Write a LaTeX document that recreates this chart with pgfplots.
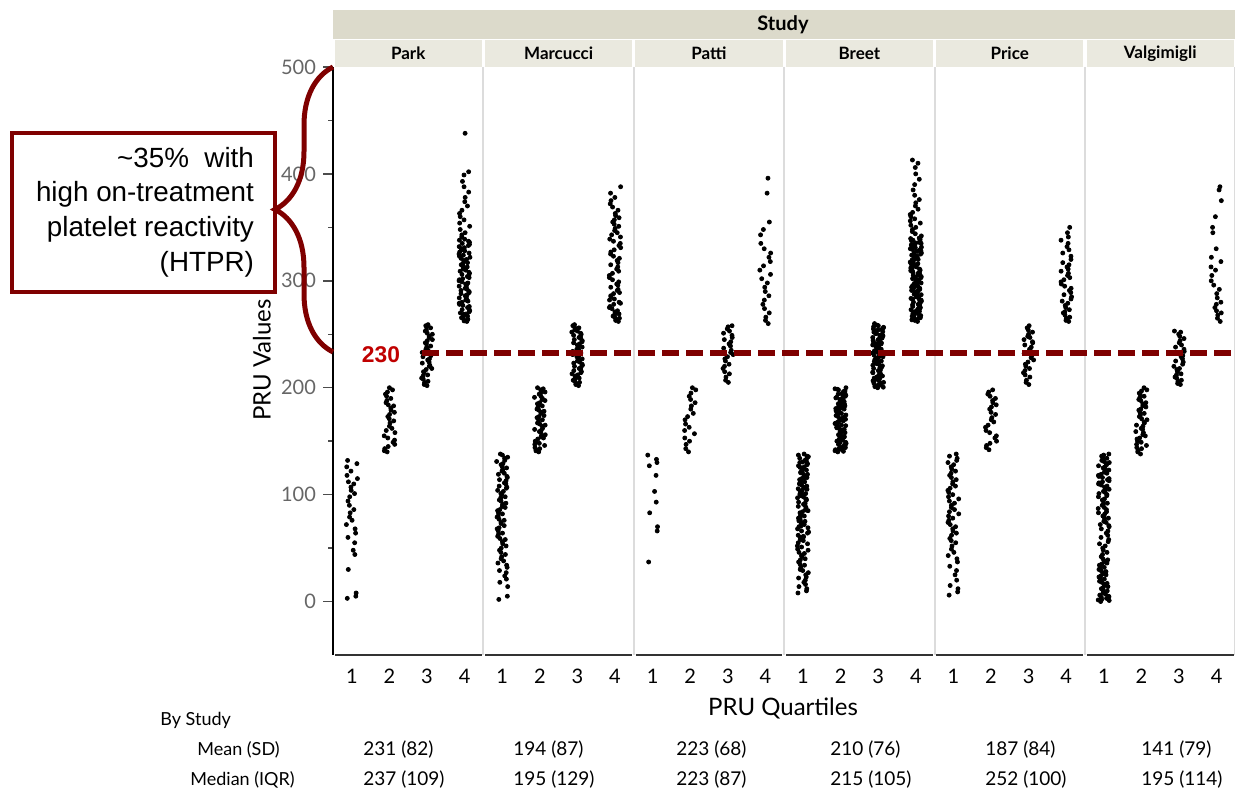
\documentclass[border=0pt]{standalone}
\usepackage{fontspec}
\setmainfont{Lato}
\newfontfamily\arialfont{Liberation Sans}
\usepackage{pgfplots}
\pgfplotsset{compat=1.18}
\usetikzlibrary{decorations.pathreplacing}
\definecolor{dred}{HTML}{7F0000}
\definecolor{lred}{HTML}{C00000}
\definecolor{stripA}{HTML}{DCDACB}
\definecolor{stripB}{HTML}{EAE9DF}
\definecolor{sepgray}{HTML}{DCDCDC}
\newcommand\Q[3]{\addplot[only marks, mark=*, mark size=1pt, mark options={draw=none, fill=black}] table[row sep=\\, y index=0, x expr={#1+0.3*(mod(#2+0.618034*\coordindex+0.1374*\coordindex*\coordindex,1)-0.5)}] {y\\#3\\};}
\pgfplotsset{panel/.style={
  scale only axis, width=75.2pt, height=294pt, anchor=south west,
  xmin=0.5, xmax=4.5, ymin=-50, ymax=500,
  xtick={1,2,3,4}, xtick style={draw=none},
  tick align=outside, major tick length=5pt, minor tick length=2.5pt,
  ytick pos=left, xtick pos=bottom,
  axis line style={draw=none},
  ytick=\empty, clip=false,
  xticklabel style={font=\fontsize{10}{12}\selectfont, text=black, yshift=1.5pt},
  /pgf/number format/assume math mode=true,
}}
\newcommand\panelframe{\draw[sepgray, line width=1pt] (rel axis cs:1,0) -- (rel axis cs:1,1);
  \draw[black!80, line width=1pt] (rel axis cs:0.012,0) -- (rel axis cs:0.988,0);}
\begin{document}
\begin{tikzpicture}
\useasboundingbox (0,0) rectangle (617.5pt,396pt);
% ---------------- Park
\begin{axis}[panel, at={(166.5pt,68.5pt)},
  ytick={0,100,200,300,400,500}, minor ytick={50,150,250,350,450},
  ytick style={black!70, line width=0.7pt},
  yticklabel style={font=\fontsize{10}{12}\selectfont, text=black!60}]
\panelframe
\draw[black, line width=1pt] (rel axis cs:0,0) -- (rel axis cs:0,1);
\Q{1}{0.1}{3\\5\\8\\30\\44\\48\\55\\60\\64\\68\\72\\76\\79\\83\\86\\90\\94\\98\\101\\104\\107\\110\\112\\115\\118\\122\\126\\129\\132}
\Q{2}{0.3}{140\\141\\143\\145\\147\\149\\151\\153\\155\\158\\160\\162\\164\\167\\169\\171\\173\\175\\177\\179\\181\\183\\184\\186\\188\\190\\192\\194\\196\\198\\200}
\Q{3}{0.5}{202\\203\\205\\206\\208\\209\\211\\212\\214\\215\\217\\218\\220\\221\\223\\224\\226\\227\\229\\230\\232\\233\\235\\236\\238\\239\\241\\242\\244\\245\\247\\248\\250\\251\\253\\254\\256\\257\\258\\259}
\Q{4}{0.7}{262\\262.5\\263\\264\\265\\265.5\\266\\267\\268\\268.5\\269\\270\\271\\272\\273\\274\\275\\276\\277\\278\\279\\280\\281\\282\\283\\284\\285\\286\\287\\288\\289\\290\\291\\292\\293\\294\\295\\296\\297\\298\\299\\300\\301\\302\\303\\304\\305\\306\\307\\308\\309\\310\\311\\312\\313\\314\\315\\316\\317\\318\\319\\320\\321\\322\\323\\324\\325\\326\\327\\328\\329\\330\\331\\332\\333\\334\\335\\336\\337\\338\\339\\341\\343\\345\\348\\351\\354\\357\\360\\363\\366\\370\\374\\378\\383\\388\\393\\399\\402\\438}
\end{axis}
% ---------------- Marcucci
\begin{axis}[panel, at={(241.7pt,68.5pt)}]
\panelframe
\Q{1}{0.2}{2\\5\\14\\18\\21\\24\\27\\29\\32\\34\\36\\38\\40\\42\\44\\46\\48\\50\\52\\54\\56\\58\\59\\61\\63\\64\\66\\68\\69\\71\\73\\74\\76\\77\\79\\80\\82\\83\\85\\86\\88\\89\\91\\92\\94\\95\\97\\98\\100\\101\\103\\104\\106\\107\\108\\110\\111\\113\\114\\116\\117\\119\\120\\122\\123\\125\\126\\128\\129\\131\\132\\134\\135\\137\\138}
\Q{2}{0.4}{140\\141\\142\\143\\144\\146\\147\\148\\149\\150\\152\\153\\154\\155\\156\\158\\159\\160\\161\\162\\164\\165\\166\\167\\168\\170\\171\\172\\173\\174\\176\\177\\178\\179\\180\\182\\183\\184\\185\\186\\188\\189\\190\\191\\192\\194\\195\\196\\197\\198\\199\\200}
\Q{3}{0.6}{202\\203\\204\\205\\206\\207\\208\\209\\210\\211\\212\\213\\214\\215\\216\\217\\218\\219\\220\\221\\222\\223\\224\\225\\226\\227\\228\\229\\230\\231\\232\\233\\234\\235\\236\\237\\238\\239\\240\\241\\242\\243\\244\\245\\246\\247\\248\\249\\250\\251\\252\\253\\254\\255\\256\\257\\258\\259}
\Q{4}{0.8}{262\\263\\264\\265\\266\\267\\268\\269\\270\\271\\272\\274\\275\\276\\278\\279\\280\\282\\283\\285\\286\\288\\289\\291\\292\\294\\296\\297\\299\\301\\303\\305\\307\\309\\311\\313\\315\\317\\319\\321\\323\\325\\327\\329\\331\\333\\335\\337\\339\\341\\343\\345\\347\\349\\351\\353\\355\\357\\359\\361\\363\\366\\369\\372\\375\\378\\382\\388}
\end{axis}
% ---------------- Patti
\begin{axis}[panel, at={(316.9pt,68.5pt)}]
\panelframe
\Q{1}{0.15}{37\\66\\70\\83\\93\\103\\118\\127\\130\\133\\137}
\Q{2}{0.35}{140\\143\\147\\150\\153\\157\\160\\163\\166\\170\\173\\176\\180\\183\\186\\189\\192\\195\\198\\200}
\Q{3}{0.55}{205\\207\\210\\213\\215\\218\\220\\222\\225\\227\\229\\231\\233\\235\\237\\239\\241\\243\\245\\247\\249\\251\\253\\255\\257\\258}
\Q{4}{0.75}{260\\263\\266\\270\\274\\278\\282\\286\\290\\294\\298\\302\\306\\310\\314\\318\\322\\326\\330\\335\\343\\348\\355\\382\\396}
\end{axis}
% ---------------- Breet
\begin{axis}[panel, at={(392.1pt,68.5pt)}]
\panelframe
\Q{1}{0.05}{8\\10\\12\\14\\16\\18\\20\\22\\23\\25\\27\\29\\30\\32\\34\\35\\37\\39\\40\\42\\43\\45\\46\\48\\49\\51\\52\\54\\55\\57\\58\\60\\61\\62\\64\\65\\66\\68\\69\\70\\72\\73\\74\\75\\77\\78\\79\\80\\82\\83\\84\\85\\86\\88\\89\\90\\91\\92\\93\\95\\96\\97\\98\\99\\100\\101\\102\\103\\104\\105\\106\\107\\108\\109\\110\\111\\112\\113\\114\\115\\116\\117\\118\\119\\120\\121\\122\\123\\124\\125\\126\\127\\128\\129\\130\\131\\132\\133\\134\\135\\136\\137\\138}
\Q{1}{0.55}{60.5\\70.5\\80.5\\90.5\\100.5\\105.5\\110.5\\115.5\\120.5\\125.5\\130.5\\135.5\\95.5\\85.5\\75.5}
\Q{2}{0.25}{140\\141\\142\\143\\144\\145\\146\\147\\148\\149\\150\\151\\152\\153\\154\\155\\156\\157\\158\\159\\160\\161\\162\\163\\164\\165\\166\\167\\168\\169\\170\\171\\172\\173\\174\\175\\176\\177\\178\\179\\180\\181\\182\\183\\184\\185\\186\\187\\188\\189\\190\\191\\192\\193\\194\\195\\196\\197\\198\\199\\200}
\Q{2}{0.75}{140.5\\142.5\\144.5\\146.5\\148.5\\150.5\\152.5\\154.5\\156.5\\158.5\\160.5\\162.5\\164.5\\166.5\\168.5\\170.5\\172.5\\174.5\\176.5\\178.5\\180.5\\182.5\\184.5\\186.5\\188.5\\190.5\\192.5\\194.5\\196.5\\198.5}
\Q{3}{0.45}{200\\201\\202\\203\\204\\205\\206\\207\\208\\209\\210\\211\\212\\213\\214\\215\\216\\217\\218\\219\\220\\221\\222\\223\\224\\225\\226\\227\\228\\229\\230\\231\\232\\233\\234\\235\\236\\237\\238\\239\\240\\241\\242\\243\\244\\245\\246\\247\\248\\249\\250\\251\\252\\253\\254\\255\\256\\257\\258\\259\\260}
\Q{3}{0.95}{200.5\\202.5\\204.5\\206.5\\208.5\\210.5\\212.5\\214.5\\216.5\\218.5\\220.5\\222.5\\224.5\\226.5\\228.5\\230.5\\232.5\\234.5\\236.5\\238.5\\240.5\\242.5\\244.5\\246.5\\248.5\\250.5\\252.5\\254.5\\256.5\\258.5}
\Q{4}{0.65}{262\\263\\264\\265\\266\\267\\268\\269\\270\\271\\272\\273\\274\\275\\276\\277\\278\\279\\280\\281\\282\\283\\284\\285\\286\\287\\288\\289\\290\\291\\292\\293\\294\\295\\296\\297\\298\\299\\300\\301\\302\\303\\304\\305\\306\\307\\308\\309\\310\\311\\312\\313\\314\\315\\316\\317\\318\\319\\320\\321\\322\\323\\324\\325\\326\\327\\328\\329\\330\\331\\332\\333\\334\\335\\336\\337\\338\\339\\340\\342\\344\\346\\348\\350\\352\\354\\356\\358\\360\\362\\364\\367\\370\\373\\376\\380\\385\\390\\395\\400\\406\\410\\413}
\Q{4}{0.15}{263.5\\265.5\\267.5\\269.5\\271.5\\273.5\\275.5\\277.5\\279.5\\281.5\\283.5\\285.5\\287.5\\289.5\\291.5\\293.5\\295.5\\297.5\\299.5\\301.5\\303.5\\305.5\\307.5\\309.5\\311.5\\313.5\\315.5\\317.5\\319.5\\321.5\\323.5\\325.5\\327.5\\329.5\\331.5\\333.5\\335.5\\337.5\\339.5}
\end{axis}
% ---------------- Price
\begin{axis}[panel, at={(467.3pt,68.5pt)}]
\panelframe
\Q{1}{0.12}{6\\9\\12\\15\\20\\25\\29\\33\\37\\40\\43\\46\\49\\52\\55\\57\\59\\62\\64\\66\\68\\70\\72\\74\\76\\78\\80\\82\\84\\86\\88\\90\\92\\94\\96\\98\\100\\102\\104\\106\\108\\110\\112\\114\\116\\118\\120\\122\\124\\126\\128\\130\\132\\134\\136\\138}
\Q{2}{0.32}{142\\144\\146\\148\\150\\153\\155\\158\\160\\163\\165\\168\\170\\172\\175\\177\\180\\182\\184\\186\\188\\190\\192\\194\\196\\198}
\Q{3}{0.52}{203\\205\\207\\210\\212\\214\\216\\218\\220\\222\\224\\226\\228\\230\\232\\234\\236\\238\\240\\242\\243\\245\\247\\248\\250\\252\\254\\256\\258}
\Q{4}{0.72}{262\\263\\265\\266\\268\\270\\271\\273\\275\\277\\279\\281\\283\\285\\287\\289\\291\\293\\295\\297\\299\\301\\303\\305\\307\\309\\311\\313\\315\\317\\320\\323\\326\\329\\332\\335\\338\\341\\345\\350}
\end{axis}
% ---------------- Valgimigli
\begin{axis}[panel, at={(542.5pt,68.5pt)}]
\panelframe
\Q{1}{0.22}{0\\1\\1.5\\2\\2.5\\3\\3.5\\4\\4.5\\5\\6\\7\\8\\9\\10\\11\\12\\13\\14\\15\\16\\17\\18\\19\\20\\21\\22\\23\\24\\25\\26\\27\\28\\29\\30\\31\\32\\33\\34\\35\\36\\37\\38\\39\\40\\42\\44\\46\\48\\50\\52\\54\\56\\58\\60\\62\\64\\66\\68\\70\\71\\72\\74\\75\\76\\78\\79\\80\\82\\83\\84\\86\\87\\88\\90\\91\\92\\94\\95\\96\\98\\99\\100\\101\\102\\103\\104\\105\\106\\107\\108\\109\\110\\111\\112\\113\\114\\115\\116\\117\\118\\119\\120\\121\\122\\123\\124\\125\\126\\127\\128\\129\\130\\131\\132\\133\\134\\135\\136\\137\\138}
\Q{2}{0.42}{138\\140\\141\\143\\144\\146\\147\\149\\150\\152\\153\\155\\156\\158\\159\\161\\162\\164\\165\\167\\168\\170\\171\\173\\174\\176\\177\\179\\180\\182\\183\\185\\186\\188\\189\\191\\192\\194\\195\\197\\198\\200}
\Q{3}{0.62}{203\\204\\206\\207\\209\\210\\212\\213\\215\\217\\218\\220\\222\\224\\225\\227\\229\\230\\232\\234\\236\\238\\240\\242\\244\\246\\248\\250\\252\\253}
\Q{4}{0.82}{262\\265\\268\\270\\272\\275\\278\\280\\284\\288\\292\\296\\300\\305\\310\\313\\318\\322\\330\\345\\350\\360\\375\\385\\388}
\end{axis}
% ---------------- strips
\fill[stripA] (166.5pt,376.5pt) rectangle (617.5pt,391pt);
\node[font=\fontsize{10}{12}\selectfont\bfseries] at (391.5pt,383.8pt) {Study};
\foreach \k/\name in {0/Park,1/Marcucci,2/Patti,3/Breet,4/Price,5/Valgimigli}{
  \fill[stripB] ({166.5pt+\k*75.2pt+0.8pt},362.5pt) rectangle ({166.5pt+\k*75.2pt+74.4pt},376pt);
  \node[font=\fontsize{8.5}{10}\selectfont\bfseries] at ({204.1pt+\k*75.2pt},369.3pt) {\name};
}
% ---------------- labels
\node[rotate=90, font=\fontsize{12}{14}\selectfont] at (131pt,216pt) {PRU Values};
\node[font=\fontsize{12}{14}\selectfont] at (391.5pt,42pt) {PRU Quartiles};
\begin{scope}[every node/.style={anchor=west, inner sep=0pt, font=\fontsize{9}{11}\selectfont}]
\node at (80pt,36pt) {By Study};
\node at (98.5pt,21pt) {Mean (SD)};
\node at (95pt,6pt) {Median (IQR)};
\foreach \x/\m/\md in {181.5/231 (82)/237 (109),256.5/194 (87)/195 (129),338/223 (68)/223 (87),415/210 (76)/215 (105),492.5/187 (84)/252 (100),570.5/141 (79)/195 (114)}{
  \node[font=\fontsize{9.5}{11}\selectfont] at (\x pt,21pt) {\m};
  \node[font=\fontsize{9.5}{11}\selectfont] at (\x pt,6pt) {\md};
}
\end{scope}
% ---------------- annotation
\draw[dred, line width=2pt] (6pt,250pt) rectangle (137.5pt,329.5pt);
\node[anchor=east, align=right, font=\arialfont\fontsize{13.9}{17.3}\selectfont] at (130.5pt,290pt) {\textasciitilde 35\%\ \ with\\high on-treatment\\platelet reactivity\\(HTPR)};
\draw[dred, line width=2.5pt, decorate, decoration={brace, amplitude=29pt}] (166.5pt,220pt) -- (166.5pt,362.5pt);
\node[font=\arialfont\bfseries\fontsize{11.4}{13}\selectfont, text=lred] at (190.5pt,218.5pt) {230};
\draw[dred, line width=2.7pt, dash pattern=on 8.5pt off 3.5pt] (211pt,219.5pt) -- (617.5pt,219.5pt);
\end{tikzpicture}
\end{document}
